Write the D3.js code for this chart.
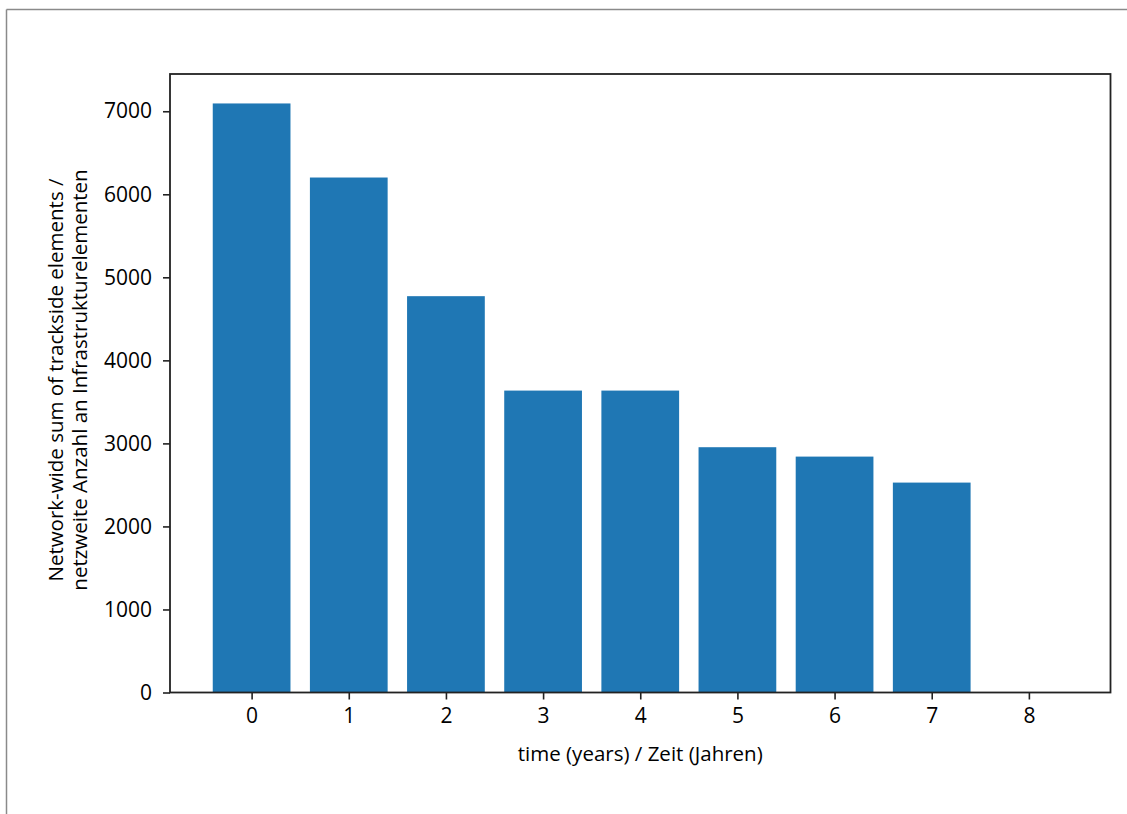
<!DOCTYPE html>
<html>
<head>
<meta charset="utf-8">
<script src="https://cdn.jsdelivr.net/npm/d3@7"></script>
<style>
  html, body { margin: 0; padding: 0; background: #fff; }
  svg { display: block; }
  text { font-family: "Open Sans", "Noto Sans", sans-serif; fill: #000; }
</style>
</head>
<body>
<svg id="chart" width="1127" height="814"></svg>
<script>
// ---- data ----
const years = [0, 1, 2, 3, 4, 5, 6, 7, 8];
const elementCounts = [7094, 6202, 4773, 3636, 3636, 2954, 2841, 2528, 0];
const yTickValues = [0, 1000, 2000, 3000, 4000, 5000, 6000, 7000];
const xLabel = "time (years) / Zeit (Jahren)";
const yLabelLines = ["Network-wide sum of trackside elements /", "netzweite Anzahl an Infrastrukturelementen"];

// ---- layout ----
const W = 1127, H = 814;
const plot = { left: 170, right: 1110.5, top: 74, bottom: 692.5 };
const svg = d3.select("#chart");

// outer frame (top and left edges visible)
svg.append("line").attr("x1", 6.5).attr("x2", W).attr("y1", 9.5).attr("y2", 9.5)
  .attr("stroke", "#8a8a8a").attr("stroke-width", 1.5);
svg.append("line").attr("x1", 6.5).attr("x2", 6.5).attr("y1", 9.5).attr("y2", H)
  .attr("stroke", "#8a8a8a").attr("stroke-width", 1.5);

const barWidth = 0.8;
const xMin = d3.min(years) - barWidth / 2, xMax = d3.max(years) + barWidth / 2;
const xPad = (xMax - xMin) * 0.05;
const x = d3.scaleLinear().domain([xMin - xPad, xMax + xPad]).range([plot.left, plot.right]);
const yMax = d3.max(elementCounts) * 1.05;
const y = d3.scaleLinear().domain([0, yMax]).range([plot.bottom, plot.top]);

// bars
svg.append("g").selectAll("rect").data(years).join("rect")
  .attr("x", (d) => x(d - barWidth / 2))
  .attr("width", (d) => x(d + barWidth / 2) - x(d - barWidth / 2))
  .attr("y", (d, i) => y(elementCounts[i]))
  .attr("height", (d, i) => y(0) - y(elementCounts[i]))
  .attr("fill", "#1f77b4");

// axes
const xAxis = d3.axisBottom(x).tickValues(years).tickFormat(d3.format("d")).tickSizeOuter(0).tickSize(7).tickPadding(9);
const yAxis = d3.axisLeft(y).tickValues(yTickValues).tickFormat(d3.format("d")).tickSizeOuter(0).tickSize(7).tickPadding(11);

const gx = svg.append("g").attr("transform", `translate(0,${plot.bottom})`).call(xAxis);
const gy = svg.append("g").attr("transform", `translate(${plot.left},0)`).call(yAxis);
[gx, gy].forEach(g => {
  g.select(".domain").remove();
  g.selectAll(".tick line").attr("stroke", "#222").attr("stroke-width", 1.6);
  g.selectAll(".tick text").style("font-family", '"Open Sans", sans-serif').style("font-size", "21px").attr("fill", "#000");
});

// frame around plot
svg.append("rect").attr("x", plot.left).attr("y", plot.top)
  .attr("width", plot.right - plot.left).attr("height", plot.bottom - plot.top)
  .attr("fill", "none").attr("stroke", "#222").attr("stroke-width", 1.8);

// labels
svg.append("text").attr("x", (plot.left + plot.right) / 2).attr("y", 761)
  .attr("text-anchor", "middle").style("font-size", "20.5px").text(xLabel);

const yl = svg.append("text").attr("transform", `translate(0,380) rotate(-90)`)
  .attr("text-anchor", "middle").style("font-size", "20.5px");
yl.append("tspan").attr("x", 0).attr("y", 63).text(yLabelLines[0]);
yl.append("tspan").attr("x", 0).attr("y", 87).text(yLabelLines[1]);
</script>
</body>
</html>
